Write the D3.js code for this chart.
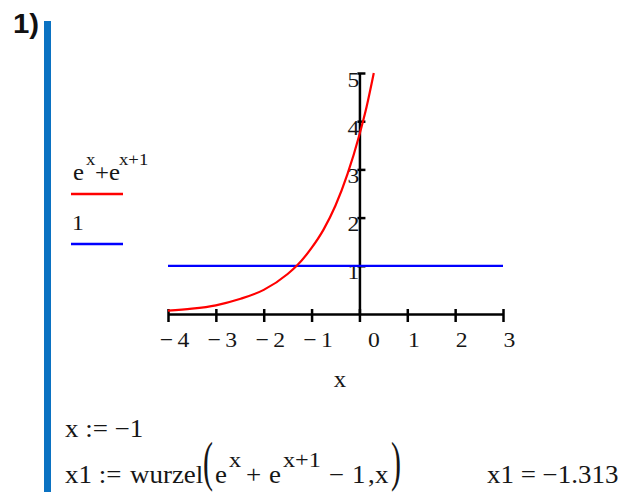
<!DOCTYPE html>
<html>
<head>
<meta charset="utf-8">
<script src="https://cdn.jsdelivr.net/npm/d3@7"></script>
<style>
  body { margin: 0; background: #fff; }
  svg { display: block; }
  .serif { font-family: "Liberation Serif", "Times New Roman", serif; fill: #161616; }
</style>
</head>
<body>
<svg id="chart" width="621" height="492"></svg>
<script>
// values
var curveX = [-4, -3.5, -3, -2.5, -2, -1.5, -1.31, -1, -0.75, -0.5, -0.25, 0, 0.15, 0.3];
var curveY = [0.07, 0.11, 0.18, 0.31, 0.5, 0.83, 1.0, 1.37, 1.75, 2.25, 2.9, 3.72, 4.3, 5.0];
var lineX = [-4, 3];
var lineY = [1, 1];
var xTicks = [-4, -3, -2, -1, 0, 1, 2, 3];
var yTicks = [1, 2, 3, 4, 5];
var seriesColors = ["#ff0000", "#0000ff"];

var SX = 1.1; // the sheet's glyphs are a bit wider than Times

var svg = d3.select("#chart");
svg.append("rect").attr("width", 621).attr("height", 492).attr("fill", "#fff");

// small helper for serif text pieces
function put(parent, px, py, size, str, anchor) {
    return parent.append("text")
        .attr("class", "serif")
        .attr("font-size", size)
        .attr("text-anchor", anchor || "start")
        .attr("transform", "translate(" + px + "," + py + ") scale(" + SX + ",1)")
        .text(str);
}

// section number and blue bar
svg.append("text")
    .attr("transform", "translate(13,33) scale(1.05,1)")
    .attr("font-family", "Liberation Sans, Arial, sans-serif")
    .attr("font-weight", "bold")
    .attr("font-size", 28)
    .attr("fill", "#111")
    .text("1)");

svg.append("rect")
    .attr("x", 44).attr("y", 21)
    .attr("width", 7).attr("height", 471)
    .attr("fill", "#0b72c2");

// scales
var x = d3.scaleLinear().domain([-4, 3]).range([168, 503]);
var y = d3.scaleLinear().domain([0, 5]).range([314, 73]);

// x axis (at y = 0)
var gx = svg.append("g")
    .attr("transform", "translate(0," + y(0) + ")")
    .call(d3.axisBottom(x).tickValues(xTicks).tickSizeOuter(0).tickSizeInner(8).tickFormat(""));
gx.select(".domain").attr("stroke", "#000").attr("stroke-width", 2.5);
gx.selectAll(".tick line").attr("y1", -5).attr("y2", 8).attr("stroke", "#000").attr("stroke-width", 2.5);
gx.selectAll(".tick text").remove();

gx.selectAll(".tick").each(function (d) {
    var t = put(d3.select(this), d === 0 ? 14 : 6, 33, 21.5, "", "middle");
    if (d < 0) {
        t.append("tspan").text("\u2212");
        t.append("tspan").attr("dx", 4).text(Math.abs(d));
    } else {
        t.text(d);
    }
});

// y axis (at x = 0)
var gy = svg.append("g")
    .attr("transform", "translate(" + x(0) + ",0)")
    .call(d3.axisRight(y).tickValues(yTicks).tickSizeOuter(0).tickSizeInner(6).tickFormat(""));
gy.select(".domain").attr("stroke", "#000").attr("stroke-width", 2.5);
gy.selectAll(".tick line").attr("x1", -2).attr("stroke", "#000").attr("stroke-width", 2.5);
gy.selectAll(".tick text").remove();
gy.selectAll(".tick").each(function (d) {
    put(d3.select(this), 0, 13, 21.5, d, "end");
});

// series
var curveData = curveX.map(function (d, i) { return [d, curveY[i]]; });
var lineData = lineX.map(function (d, i) { return [d, lineY[i]]; });

var line = d3.line()
    .x(function (d) { return x(d[0]); })
    .y(function (d) { return y(d[1]); })
    .curve(d3.curveMonotoneX);

svg.append("path").datum(lineData)
    .attr("d", line).attr("fill", "none")
    .attr("stroke", seriesColors[1]).attr("stroke-width", 2.2);

svg.append("path").datum(curveData)
    .attr("d", line).attr("fill", "none")
    .attr("stroke", seriesColors[0]).attr("stroke-width", 2.2);

// legend
put(svg, 73, 180, 22.5, "e");
put(svg, 86, 165, 17, "x");
put(svg, 95, 180, 22.5, "+e");
put(svg, 119, 165, 17, "x+1");
svg.append("line").attr("x1", 71).attr("x2", 123).attr("y1", 194).attr("y2", 194)
    .attr("stroke", seriesColors[0]).attr("stroke-width", 2.5);

put(svg, 72, 230, 21.5, "1");
svg.append("line").attr("x1", 71).attr("x2", 123).attr("y1", 244).attr("y2", 244)
    .attr("stroke", seriesColors[1]).attr("stroke-width", 2.5);

// axis title
put(svg, 340, 387, 22.5, "x", "middle");

// worksheet lines below the plot
put(svg, 65, 437, 24.5, "x := \u22121");

put(svg, 65, 483, 24.5, "x1 :=");
put(svg, 130, 483, 24.5, "wurzel");
svg.append("text").attr("class", "serif").attr("font-size", 30)
    .attr("transform", "translate(203,480) scale(1,1.8)").text("(");
put(svg, 215, 483, 24.5, "e");
put(svg, 229, 467, 22, "x");
put(svg, 246, 483, 24.5, "+");
put(svg, 269, 483, 24.5, "e");
put(svg, 283, 467, 22, "x+1");
put(svg, 329, 483, 24.5, "\u2212");
put(svg, 352, 483, 24.5, "1");
put(svg, 368, 483, 24.5, ",");
put(svg, 375, 483, 24.5, "x");
svg.append("text").attr("class", "serif").attr("font-size", 30)
    .attr("transform", "translate(391,480) scale(1,1.8)").text(")");

put(svg, 487, 483, 24.5, "x1 = \u22121.313");
</script>
</body>
</html>
